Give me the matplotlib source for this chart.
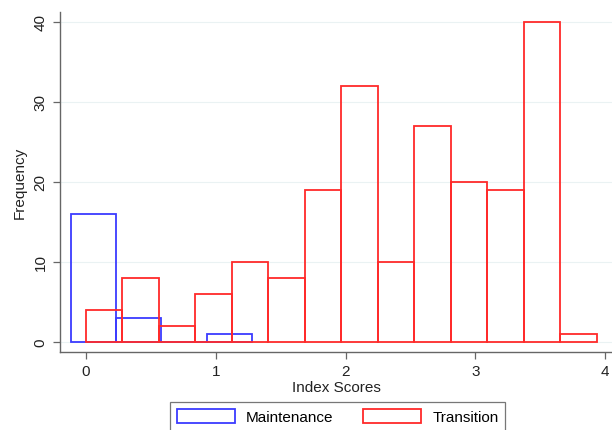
import matplotlib
matplotlib.use('Agg')
from matplotlib import pyplot as plt
from matplotlib import patches as mp

plt.rcParams['font.family'] = ['Liberation Sans', 'DejaVu Sans']

# Maintenance histogram
maint_start = -0.118
maint_width = 0.349
maint_counts = [16, 3, 0, 1]

# Transition histogram
trans_start = 0.0
trans_width = 0.2812
trans_counts = [4, 8, 2, 6, 10, 8, 19, 32, 10, 27, 20, 19, 40, 1]

maint_left = [maint_start + i * maint_width for i in range(len(maint_counts))]
trans_left = [trans_start + i * trans_width for i in range(len(trans_counts))]

blue = '#3b3bff'
red = '#ff2a2a'

fig = plt.figure(figsize=(6.12, 4.31), dpi=100)
ax = fig.add_axes([60 / 612, 1 - 353 / 431, 1 - 60 / 612, (353 - 13) / 431])

for y in [0, 10, 20, 30, 40]:
    ax.axhline(y, color='#eaf2f3', lw=0.8, zorder=0)

ax.bar(maint_left, maint_counts, width=maint_width, align='edge', fill=False,
       edgecolor=blue, linewidth=1.3, zorder=2)
ax.bar(trans_left, trans_counts, width=trans_width, align='edge', fill=False,
       edgecolor=red, linewidth=1.3, zorder=3)

ax.set_xlim(-0.2, (612 - 86) / 129.8)
ax.set_ylim(-1.3, 41.2)
ax.set_xticks([0, 1, 2, 3, 4])
ax.set_yticks([0, 10, 20, 30, 40])
ax.set_yticklabels(['0', '10', '20', '30', '40'], rotation=90, va='center')

for s in ['top', 'right']:
    ax.spines[s].set_visible(False)
for s in ['left', 'bottom']:
    ax.spines[s].set_color('#666666')
    ax.spines[s].set_linewidth(1.0)
ax.tick_params(direction='out', length=5, width=0.9, color='#666666',
               labelsize=11, labelcolor='#222222', pad=4)

ax.set_xlabel('Index Scores', fontsize=11, color='#222222', labelpad=1)
ax.set_ylabel('Frequency', fontsize=11, color='#222222', labelpad=5)

handles = [mp.Patch(facecolor='white', edgecolor=blue, linewidth=1.3, label='Maintenance'),
           mp.Patch(facecolor='white', edgecolor=red, linewidth=1.3, label='Transition')]
leg = fig.legend(handles=handles, loc='upper center', ncol=2,
                 bbox_to_anchor=(337.5 / 612, 1 - 403 / 431), fontsize=11,
                 frameon=True, fancybox=False, edgecolor='#555555',
                 handlelength=3.8, handleheight=1.0, columnspacing=1.9,
                 handletextpad=0.75, borderpad=0.45, borderaxespad=0)
leg.get_frame().set_linewidth(0.9)

fig.savefig('out.png', dpi=100)
